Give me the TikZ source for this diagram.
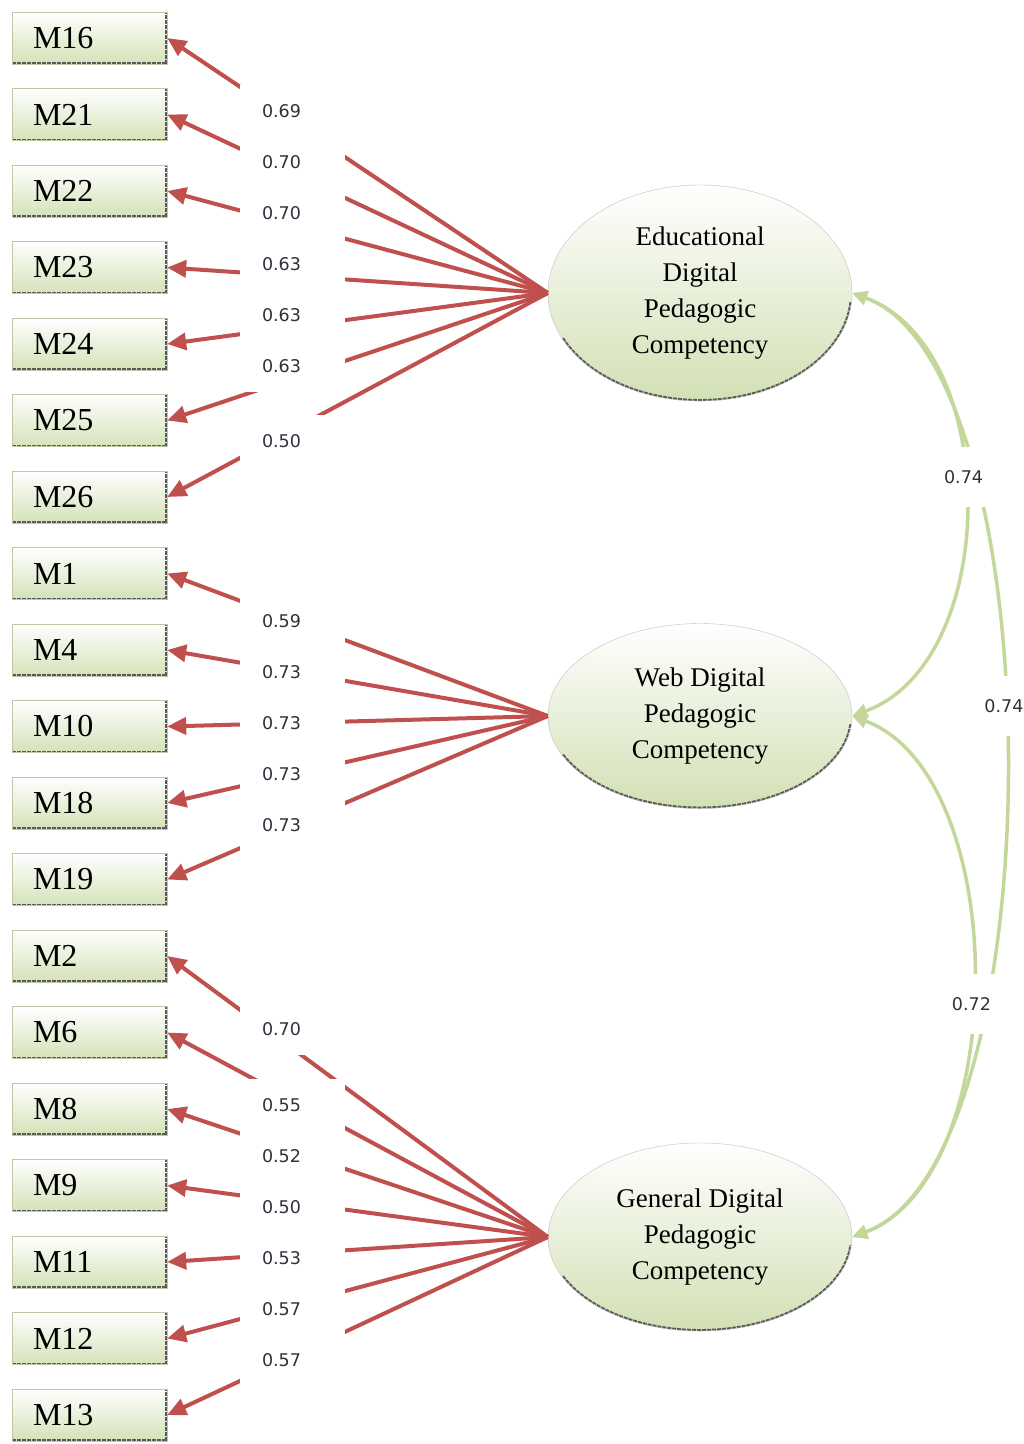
\documentclass[tikz,border=0pt]{standalone}
\usepackage{fontspec}
\setmainfont{Liberation Serif}
\newfontfamily\numfont{DejaVu Sans}
\usetikzlibrary{arrows.meta,shapes.geometric}

\definecolor{loadred}{RGB}{192,80,77}
\definecolor{corrgreen}{RGB}{196,215,155}
\definecolor{boxgreen}{RGB}{212,226,184}
\definecolor{boxedge}{RGB}{190,200,165}
\definecolor{latgreen}{RGB}{210,224,180}
\definecolor{numgray}{RGB}{45,50,60}

\newcommand{\boxfont}{\fontsize{32}{36}\selectfont}
\newcommand{\latfont}{\fontsize{27}{36}\selectfont}
\newcommand{\lblfont}{\numfont\fontsize{17.5}{20}\selectfont}

\begin{document}
\begin{tikzpicture}[
    x=1pt, y=-1pt,
    dots/.style={densely dotted, line width=4pt, draw=black!65},
    obs/.style={rectangle, minimum width=155pt, minimum height=52pt, text width=113pt, inner xsep=21pt, inner ysep=0pt, align=left, draw=boxedge, thin, top color=white, bottom color=boxgreen, font=\boxfont,
        path picture={\draw[dots] (path picture bounding box.south west) -- (path picture bounding box.south east) -- (path picture bounding box.north east);}},
    latent/.style={ellipse, minimum width=304pt, minimum height=#1, inner sep=0pt, align=center, draw=black!25, thin, top color=white, bottom color=latgreen, font=\latfont,
        path picture={\draw[dots] ([shift={(205:152pt and #1/2)}]path picture bounding box.center) arc[start angle=205, end angle=355, x radius=152pt, y radius=#1/2];}},
    load/.style={draw=loadred, line width=4pt, -{Triangle[length=19pt,width=17pt]}},
    corr/.style={draw=corrgreen, line width=3.5pt, {Triangle[length=15pt,width=14pt]}-{Triangle[length=15pt,width=14pt]}},
    lbl/.style={fill=white, text width=61pt, align=left, inner xsep=22pt, inner ysep=0pt, minimum height=51.5pt, text=numgray, font=\lblfont},
    clbl/.style={fill=white, minimum width=56pt, minimum height=60pt, inner sep=0pt, text=numgray, font=\lblfont}
]
    \useasboundingbox (0,0) rectangle (1024,1444);

    % indicators
    \foreach \name [count=\i from 0] in {M16,M21,M22,M23,M24,M25,M26,M1,M4,M10,M18,M19,M2,M6,M8,M9,M11,M12,M13}
        \node [obs] (\name) at (89.5,{38+76.5*\i}) {\name};

    % factors
    \node [latent=216pt] (edu) at (700,293) {Educational\\Digital\\Pedagogic\\Competency};
    \node [latent=185pt] (web) at (700,716) {Web Digital\\Pedagogic\\Competency};
    \node [latent=188pt] (gen) at (700,1237) {General Digital\\Pedagogic\\Competency};

    % loadings
    \foreach \lat/\ind in {edu/M16,edu/M21,edu/M22,edu/M23,edu/M24,edu/M25,edu/M26,
                           web/M1,web/M4,web/M10,web/M18,web/M19,
                           gen/M2,gen/M6,gen/M8,gen/M9,gen/M11,gen/M12,gen/M13}
        \draw [load] (\lat.west) -- (\ind.east);

    % correlations
    \draw [corr] (edu.east) .. controls +(150,55) and +(150,-55) .. (web.east) coordinate [pos=0.45] (c1);
    \draw [corr] (edu.east) .. controls +(204,74) and +(204,-74) .. (gen.east) coordinate [pos=0.455] (c2);
    \draw [corr] (web.east) .. controls +(160,60) and +(160,-60) .. (gen.east) coordinate [pos=0.54] (c3);

    % estimates
    \foreach \y/\v [count=\k] in {111/0.69,162/0.70,213/0.70,264/0.63,315/0.63,366/0.63,441/0.50,
                                  621/0.59,672/0.73,723/0.73,774/0.73,825/0.73,
                                  1029/0.70,1105/0.55,1156/0.52,1207/0.50,1258/0.53,1309/0.57,1360/0.57}
        \node [lbl] (l\k) at (292.5,\y) {\v};
    \node [clbl] (r1) at (c1) {0.74};
    \node [clbl] (r2) at (c2) {0.74};
    \node [clbl] (r3) at (c3) {0.72};
\end{tikzpicture}
\end{document}
